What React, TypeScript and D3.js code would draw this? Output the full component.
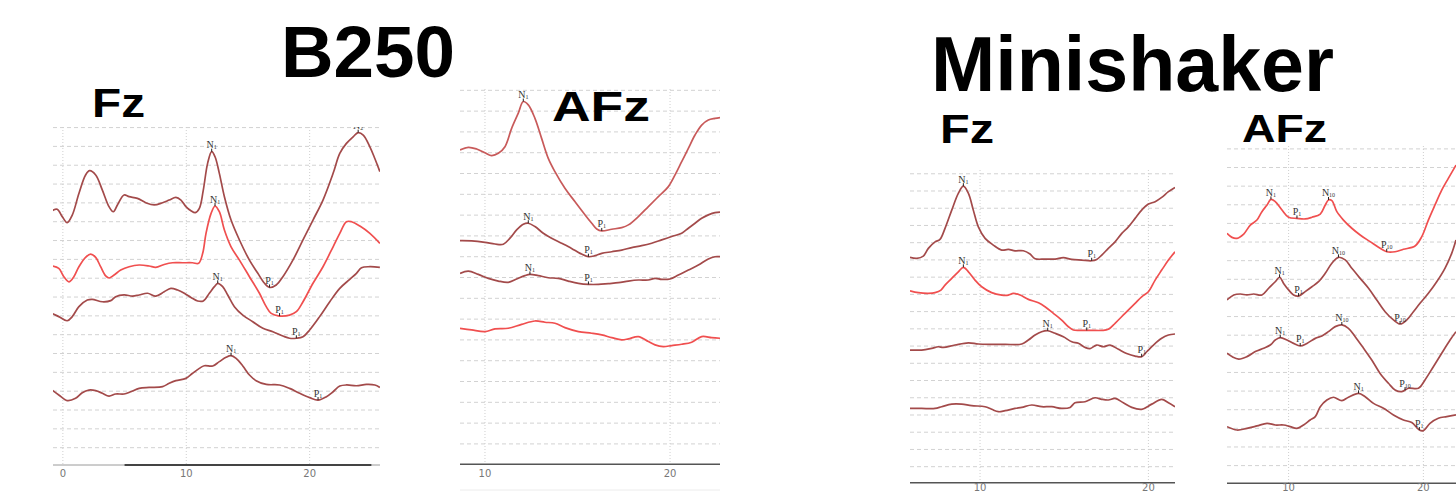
import React from "react";
import * as d3 from "d3";

type Pt = [number, number];

// ---------- DATA (time in ms, amplitude in grid units) ----------
const b250FzTrace1: Pt[] = [[-0.87,13.5],[-0.46,13.58],[-0.05,13.19],[0.35,12.87],[0.76,13.27],[1.3,14.42],[1.84,15.4],[2.17,15.63],[2.66,15.4],[3.2,14.6],[3.74,13.72],[4.09,13.45],[4.42,13.81],[4.96,14.34],[5.37,14.25],[6.04,14.16],[6.72,13.93],[7.4,13.81],[8.08,13.93],[8.62,14.07],[9.16,14.21],[9.57,14.07],[9.97,13.72],[10.38,13.5],[10.73,13.4],[11.06,13.63],[11.38,14.6],[11.73,16.02],[12.06,16.64],[12.33,16.37],[12.68,15.49],[13.09,14.25],[13.63,13.01],[14.31,11.95],[15.12,10.88],[15.8,10.18],[16.34,9.65],[16.75,9.43],[17.29,9.56],[17.83,10.0],[18.64,10.88],[19.46,11.95],[20.27,13.01],[21.08,14.07],[21.9,15.49],[22.44,16.55],[22.98,17.08],[23.52,17.43],[23.93,17.65],[24.34,17.52],[24.88,16.9],[25.28,16.28],[25.69,15.58]];
const b250FzTrace2: Pt[] = [[-0.87,10.57],[-0.33,10.44],[0.08,10.0],[0.49,9.73],[0.89,10.0],[1.3,10.53],[1.84,11.03],[2.25,11.2],[2.66,11.03],[3.06,10.53],[3.47,10.04],[3.74,9.93],[4.15,10.09],[4.69,10.35],[5.37,10.53],[6.18,10.62],[6.99,10.57],[7.53,10.5],[8.21,10.65],[8.89,10.74],[9.7,10.74],[10.51,10.74],[11.0,10.71],[11.33,11.24],[11.6,12.3],[12.01,13.36],[12.33,13.75],[12.68,13.45],[13.09,12.48],[13.63,11.59],[14.31,10.88],[15.12,10.0],[15.93,9.12],[16.48,8.41],[16.88,8.05],[17.56,7.91],[18.37,7.96],[18.92,8.14],[19.46,8.67],[20.27,9.65],[21.08,10.53],[21.9,11.59],[22.44,12.3],[22.98,12.92],[23.39,12.92],[24.07,12.69],[24.88,12.3],[25.69,11.77]];
const b250FzTrace3: Pt[] = [[-0.87,8.05],[-0.33,7.88],[0.35,7.66],[0.76,7.88],[1.3,8.41],[1.98,8.76],[2.38,8.8],[3.2,8.67],[3.88,8.73],[4.28,8.94],[4.96,9.03],[5.64,8.97],[6.18,9.03],[6.86,9.12],[7.53,8.97],[8.21,9.2],[8.75,9.38],[9.3,9.29],[9.84,9.12],[10.38,8.9],[10.92,8.71],[11.38,8.71],[11.87,9.12],[12.28,9.47],[12.55,9.65],[12.95,9.47],[13.36,9.03],[13.9,8.41],[14.58,7.96],[15.39,7.61],[16.21,7.26],[17.02,7.08],[17.83,6.85],[18.37,6.73],[18.92,6.73],[19.46,6.81],[20.0,7.17],[20.81,7.88],[21.63,8.67],[22.44,9.38],[23.25,9.86],[23.79,10.18],[24.2,10.48],[24.88,10.53],[25.69,10.5]];
const b250FzTrace4: Pt[] = [[-0.87,3.98],[-0.33,3.72],[0.35,3.42],[1.03,3.54],[1.57,3.84],[2.11,3.98],[2.66,3.95],[3.2,3.81],[3.74,3.66],[4.28,3.77],[4.96,3.77],[5.5,3.89],[6.18,4.07],[6.99,4.12],[8.08,4.16],[8.62,4.34],[9.16,4.48],[9.97,4.6],[10.51,4.87],[11.06,5.13],[11.46,5.27],[12.14,5.26],[12.68,5.49],[13.22,5.72],[13.63,5.81],[14.04,5.66],[14.58,5.26],[15.12,4.78],[15.66,4.48],[16.48,4.28],[17.56,4.25],[18.37,4.07],[19.19,3.81],[20.0,3.58],[20.68,3.45],[21.36,3.63],[21.9,3.89],[22.44,4.19],[22.98,4.25],[23.79,4.21],[24.6,4.28],[25.28,4.25],[25.69,4.12]];

const b250AFzTrace1: Pt[] = [[8.65,15.11],[9.1,15.24],[9.55,15.16],[10.0,14.98],[10.36,14.84],[10.72,14.95],[11.08,15.27],[11.44,16.15],[11.8,16.88],[12.07,17.44],[12.34,17.28],[12.7,16.63],[13.06,15.67],[13.42,14.71],[13.78,14.07],[14.32,13.27],[14.86,12.63],[15.41,11.99],[15.77,11.59],[16.04,11.31],[16.31,11.22],[16.85,11.3],[17.39,11.38],[17.75,11.51],[18.29,11.91],[18.83,12.39],[19.37,12.87],[19.91,13.35],[20.27,13.91],[20.63,14.55],[20.99,15.19],[21.35,15.83],[21.71,16.31],[22.07,16.55],[22.43,16.63],[22.7,16.67]];
const b250AFzTrace2: Pt[] = [[8.65,10.75],[9.28,10.74],[10.0,10.67],[10.54,10.59],[10.99,10.58],[11.35,10.87],[11.71,11.27],[12.07,11.54],[12.34,11.59],[12.7,11.43],[13.15,11.11],[13.6,10.87],[14.14,10.63],[14.68,10.38],[15.14,10.14],[15.59,9.98],[15.95,10.03],[16.31,10.14],[16.85,10.22],[17.39,10.3],[17.93,10.42],[18.47,10.51],[19.01,10.63],[19.55,10.79],[20.09,10.95],[20.63,11.11],[20.99,11.35],[21.35,11.59],[21.71,11.83],[22.07,11.99],[22.43,12.1],[22.7,12.12]];
const b250AFzTrace3: Pt[] = [[8.65,9.18],[9.1,9.29],[9.64,9.13],[10.18,8.94],[10.72,8.81],[11.26,8.75],[11.71,8.91],[12.16,9.07],[12.43,9.13],[12.88,9.07],[13.42,8.97],[13.96,8.94],[14.5,8.81],[15.05,8.7],[15.59,8.65],[16.13,8.65],[16.67,8.69],[17.21,8.73],[17.75,8.81],[18.29,8.86],[18.83,8.86],[19.19,8.94],[19.55,8.89],[20.0,8.91],[20.45,9.1],[20.99,9.34],[21.53,9.58],[22.07,9.87],[22.43,9.98],[22.7,9.98]];
const b250AFzTrace4: Pt[] = [[8.65,6.54],[9.28,6.46],[10.0,6.38],[10.54,6.51],[11.26,6.54],[11.98,6.73],[12.7,6.89],[13.24,6.83],[13.78,6.78],[14.32,6.57],[15.05,6.38],[15.77,6.3],[16.31,6.22],[16.85,6.09],[17.39,5.98],[17.75,6.03],[18.29,6.14],[18.83,5.9],[19.19,5.74],[19.64,5.66],[20.09,5.71],[20.63,5.77],[21.17,5.87],[21.71,6.14],[22.25,6.09],[22.7,6.06]];

const miniFzTrace1: Pt[] = [[5.84,13.08],[6.24,13.02],[6.63,13.15],[6.93,13.6],[7.33,13.98],[7.62,14.12],[7.92,14.76],[8.32,15.82],[8.71,16.79],[9.01,17.21],[9.31,16.79],[9.6,15.82],[9.9,14.85],[10.3,14.18],[10.79,13.79],[11.29,13.5],[11.68,13.54],[12.08,13.46],[12.57,13.46],[12.97,13.27],[13.27,13.0],[13.86,12.98],[14.46,12.98],[14.95,13.06],[15.45,12.96],[16.04,12.92],[16.63,12.88],[16.93,12.96],[17.23,13.21],[17.62,13.6],[18.02,13.98],[18.42,14.47],[18.81,14.85],[19.21,15.34],[19.6,15.82],[20.0,16.17],[20.4,16.31],[20.79,16.56],[21.19,16.89],[21.58,17.14]];
const miniFzTrace2: Pt[] = [[5.84,11.14],[6.34,11.03],[6.93,10.99],[7.33,11.03],[7.68,11.18],[7.92,11.47],[8.32,11.86],[8.71,12.24],[9.01,12.5],[9.31,12.24],[9.7,11.76],[10.1,11.37],[10.69,11.03],[11.29,10.89],[11.68,10.89],[11.98,10.99],[12.38,10.89],[12.87,10.64],[13.47,10.44],[13.86,10.21],[14.36,9.83],[14.85,9.44],[15.25,9.05],[15.54,8.86],[16.04,8.84],[16.63,8.84],[17.23,8.84],[17.62,8.9],[18.02,9.25],[18.61,9.83],[19.21,10.41],[19.6,10.79],[20.0,11.08],[20.4,11.76],[20.79,12.34],[21.19,12.92],[21.58,13.4]];
const miniFzTrace3: Pt[] = [[5.84,7.7],[6.53,7.7],[7.13,7.8],[7.52,7.89],[7.82,7.85],[8.51,7.99],[9.31,8.12],[9.9,8.05],[10.69,8.03],[11.49,8.03],[12.48,8.05],[12.87,8.28],[13.27,8.57],[13.66,8.76],[14.02,8.82],[14.46,8.67],[14.95,8.47],[15.45,8.18],[15.84,8.09],[16.24,7.85],[16.53,7.78],[16.93,7.99],[17.33,7.89],[17.72,7.99],[18.22,7.74],[18.71,7.5],[19.21,7.35],[19.6,7.31],[19.9,7.6],[20.3,7.99],[20.79,8.38],[21.19,8.57],[21.58,8.63]];
const miniFzTrace4: Pt[] = [[5.84,4.31],[6.53,4.31],[7.33,4.31],[7.72,4.41],[8.32,4.56],[8.91,4.56],[9.5,4.47],[10.3,4.41],[10.69,4.26],[11.09,4.12],[11.49,4.18],[12.08,4.31],[12.48,4.37],[13.07,4.51],[13.66,4.41],[14.26,4.41],[14.85,4.31],[15.35,4.37],[15.64,4.64],[16.24,4.7],[16.83,4.93],[17.23,4.84],[17.62,4.8],[18.02,4.89],[18.51,4.64],[19.01,4.37],[19.6,4.26],[20.2,4.56],[20.79,4.84],[21.19,4.64],[21.58,4.41]];

const miniAFzTrace1: Pt[] = [[5.43,13.42],[5.8,13.2],[6.17,13.15],[6.67,13.38],[7.16,13.86],[7.65,14.13],[8.02,14.58],[8.4,14.94],[8.69,15.24],[9.01,15.12],[9.51,14.67],[10.0,14.28],[10.62,14.22],[11.23,14.19],[11.73,14.28],[12.35,14.45],[12.72,14.94],[12.96,15.21],[13.21,15.17],[13.58,14.58],[14.07,14.13],[14.69,13.69],[15.31,13.33],[16.05,12.97],[16.67,12.67],[17.28,12.43],[17.9,12.43],[18.52,12.56],[19.38,12.74],[19.88,13.24],[20.37,14.13],[20.86,14.94],[21.36,15.74],[21.85,16.37],[22.42,17.08]];
const miniAFzTrace2: Pt[] = [[5.43,9.84],[5.93,10.11],[6.42,10.16],[6.91,10.11],[7.41,10.16],[8.02,10.11],[8.52,10.47],[9.01,10.82],[9.33,11.06],[9.63,10.73],[10.0,10.38],[10.37,10.11],[10.74,10.05],[11.23,10.29],[11.73,10.55],[12.22,10.82],[12.72,11.27],[13.21,11.81],[13.7,12.13],[14.2,11.99],[14.69,11.54],[15.31,11.0],[15.93,10.47],[16.54,9.84],[17.16,9.21],[17.78,8.77],[18.27,8.55],[18.77,8.77],[19.26,9.21],[19.75,9.66],[20.37,10.2],[20.99,10.82],[21.6,11.54],[22.1,12.34],[22.42,13.06]];
const miniAFzTrace3: Pt[] = [[5.43,6.98],[5.8,6.8],[6.3,6.67],[6.91,6.8],[7.53,7.07],[8.15,7.25],[8.64,7.42],[9.01,7.69],[9.38,7.82],[9.88,7.69],[10.37,7.51],[10.86,7.37],[11.36,7.51],[11.98,7.78],[12.47,7.91],[12.96,8.14],[13.46,8.41],[13.95,8.5],[14.44,8.32],[14.94,7.87],[15.56,7.25],[16.17,6.62],[16.79,5.9],[17.41,5.37],[17.9,5.01],[18.4,4.92],[18.89,5.1],[19.63,5.1],[20.12,5.55],[20.74,6.26],[21.36,6.98],[21.98,7.69],[22.42,8.14]];
const miniAFzTrace4: Pt[] = [[5.43,3.04],[6.17,2.86],[6.91,2.95],[7.65,3.08],[8.4,3.22],[9.01,3.13],[9.63,3.13],[10.12,3.04],[10.62,2.95],[11.11,3.13],[11.6,3.4],[11.98,3.58],[12.35,4.11],[12.84,4.47],[13.33,4.62],[13.95,4.44],[14.44,4.62],[15.19,4.83],[15.68,4.65],[16.3,4.29],[17.04,4.03],[17.78,3.67],[18.52,3.4],[19.14,3.26],[19.7,2.86],[20.0,2.83],[20.49,3.22],[21.11,3.49],[21.73,3.58],[22.42,3.67]];

type Mark = { t: number; v: number; name: string; sub: string };
const b250FzMarks: Mark[] = [
  { t: 12.06, v: 16.64, name: "N", sub: "1" }, { t: 16.75, v: 9.43, name: "P", sub: "1" },
  { t: 23.93, v: 17.65, name: "N", sub: "2" },
  { t: 12.33, v: 13.75, name: "N", sub: "1" }, { t: 17.56, v: 7.91, name: "P", sub: "1" },
  { t: 12.55, v: 9.65, name: "N", sub: "1" }, { t: 18.92, v: 6.73, name: "P", sub: "1" },
  { t: 13.63, v: 5.81, name: "N", sub: "1" }, { t: 20.68, v: 3.45, name: "P", sub: "1" },
];
const b250AFzMarks: Mark[] = [
  { t: 12.07, v: 17.44, name: "N", sub: "1" }, { t: 16.31, v: 11.22, name: "P", sub: "1" },
  { t: 12.34, v: 11.59, name: "N", sub: "1" }, { t: 15.59, v: 9.98, name: "P", sub: "1" },
  { t: 12.43, v: 9.13, name: "N", sub: "1" }, { t: 15.59, v: 8.65, name: "P", sub: "1" },
];
const miniFzMarks: Mark[] = [
  { t: 9.01, v: 17.21, name: "N", sub: "1" }, { t: 16.63, v: 12.88, name: "P", sub: "1" },
  { t: 9.01, v: 12.5, name: "N", sub: "1" }, { t: 16.34, v: 8.84, name: "P", sub: "1" },
  { t: 14.02, v: 8.82, name: "N", sub: "1" }, { t: 19.6, v: 7.31, name: "P", sub: "1" },
];
const miniAFzMarks: Mark[] = [
  { t: 8.69, v: 15.24, name: "N", sub: "1" }, { t: 10.62, v: 14.22, name: "P", sub: "1" },
  { t: 12.96, v: 15.21, name: "N", sub: "10" }, { t: 17.28, v: 12.43, name: "P", sub: "10" },
  { t: 9.33, v: 11.06, name: "N", sub: "1" }, { t: 10.74, v: 10.05, name: "P", sub: "1" },
  { t: 13.7, v: 12.13, name: "N", sub: "10" }, { t: 18.27, v: 8.55, name: "P", sub: "10" },
  { t: 9.38, v: 7.82, name: "N", sub: "1" }, { t: 10.86, v: 7.37, name: "P", sub: "1" },
  { t: 13.95, v: 8.5, name: "N", sub: "10" }, { t: 18.64, v: 5.0, name: "P", sub: "10" },
  { t: 15.19, v: 4.83, name: "N", sub: "1" }, { t: 19.7, v: 2.86, name: "P", sub: "1" },
];

const b250FzTicks = [0, 10, 20];
const b250AFzTicks = [10, 20];
const miniFzTicks = [10, 20];
const miniAFzTicks = [10, 20];

// ---------- STYLE / LAYOUT ----------
const DARK = "#a34a4a";
const BRIGHT = "#f04f4f";

type PanelCfg = {
  id: string;
  x0: number; x1: number; tDomain: [number, number];
  yBase: number; unitPx: number; top: number;
  gridOffset: number; nGrid: number;
  ticks: number[]; tickY: number;
  traces: Pt[][]; colors: string[];
  marks: Mark[];
  darkSeg?: [number, number];
  bottomLine?: number;
};

const panels: PanelCfg[] = [
  {
    id: "p1", x0: 53, x1: 380, tDomain: [-0.8, 25.7], yBase: 465, unitPx: 18.83, top: 127,
    gridOffset: 0.92, nGrid: 18, ticks: b250FzTicks, tickY: 477,
    traces: [b250FzTrace1, b250FzTrace2, b250FzTrace3, b250FzTrace4],
    colors: [DARK, BRIGHT, DARK, DARK], marks: b250FzMarks, darkSeg: [5, 25],
  },
  {
    id: "p2", x0: 460, x1: 720, tDomain: [8.65, 22.7], yBase: 464.3, unitPx: 20.8, top: 89,
    gridOffset: 0.98, nGrid: 18, ticks: b250AFzTicks, tickY: 477,
    traces: [b250AFzTrace1, b250AFzTrace2, b250AFzTrace3, b250AFzTrace4],
    colors: ["#c85a5a", DARK, DARK, BRIGHT], marks: b250AFzMarks, bottomLine: 490,
  },
  {
    id: "p3", x0: 910, x1: 1175, tDomain: [5.84, 21.58], yBase: 482.7, unitPx: 17.23, top: 170,
    gridOffset: 0.93, nGrid: 18, ticks: miniFzTicks, tickY: 491,
    traces: [miniFzTrace1, miniFzTrace2, miniFzTrace3, miniFzTrace4],
    colors: [DARK, BRIGHT, DARK, DARK], marks: miniFzMarks,
  },
  {
    id: "p4", x0: 1227, x1: 1456, tDomain: [5.43, 22.42], yBase: 483.3, unitPx: 18.63, top: 146,
    gridOffset: 0.95, nGrid: 18, ticks: miniAFzTicks, tickY: 491,
    traces: [miniAFzTrace1, miniAFzTrace2, miniAFzTrace3, miniAFzTrace4],
    colors: [BRIGHT, DARK, DARK, DARK], marks: miniAFzMarks,
  },
];

function Panel({ cfg }: { cfg: PanelCfg }) {
  const x = d3.scaleLinear().domain(cfg.tDomain).range([cfg.x0, cfg.x1]);
  const vTop = (cfg.yBase - cfg.top) / cfg.unitPx;
  const y = d3.scaleLinear().domain([0, vTop]).range([cfg.yBase, cfg.top]);
  const line = d3.line<Pt>().x((d) => x(d[0])).y((d) => y(d[1])).curve(d3.curveCatmullRom.alpha(0.5));
  const grid = d3.range(cfg.nGrid).map((k) => cfg.gridOffset + k);
  const clipId = `clip-${cfg.id}`;
  return (
    <g>
      <defs>
        <clipPath id={clipId}>
          <rect x={cfg.x0} y={cfg.top} width={cfg.x1 - cfg.x0} height={cfg.yBase - cfg.top} />
        </clipPath>
      </defs>
      <g clipPath={`url(#${clipId})`}>
        {grid.map((v, i) => (
          <line key={`h${i}`} x1={cfg.x0} x2={cfg.x1} y1={y(v)} y2={y(v)} stroke="#d2d2d2" strokeWidth={1} strokeDasharray="4,3" />
        ))}
        {cfg.ticks.map((t) => (
          <line key={`v${t}`} x1={x(t)} x2={x(t)} y1={cfg.top} y2={cfg.yBase} stroke="#cfcfcf" strokeWidth={1} strokeDasharray="1,2" />
        ))}
        {cfg.traces.map((tr, i) => (
          <path key={`t${i}`} d={line(tr) || ""} fill="none" stroke={cfg.colors[i]} strokeWidth={1.7} strokeLinejoin="round" />
        ))}
        {cfg.marks.map((m, i) => {
          const px = x(m.t), py = y(m.v);
          return (
            <g key={`m${i}`}>
              <line x1={px} x2={px} y1={py} y2={py - 3} stroke="#222" strokeWidth={1} />
              <text x={px} y={py - 3.5} textAnchor="middle" fontFamily="'Liberation Serif', 'DejaVu Serif', serif" fontSize={10} fill="#333">
                {m.name}
                <tspan fontSize={6} dy={1}>{m.sub}</tspan>
              </text>
            </g>
          );
        })}
      </g>
      <line x1={cfg.x0} x2={cfg.x1} y1={cfg.yBase} y2={cfg.yBase} stroke={cfg.darkSeg ? "#9a9a9a" : "#555"} strokeWidth={cfg.darkSeg ? 1 : 1.6} />
      {cfg.darkSeg && (
        <line x1={x(cfg.darkSeg[0])} x2={x(cfg.darkSeg[1])} y1={cfg.yBase} y2={cfg.yBase} stroke="#444" strokeWidth={2} />
      )}
      {cfg.bottomLine !== undefined && (
        <line x1={cfg.x0} x2={cfg.x1} y1={cfg.bottomLine} y2={cfg.bottomLine} stroke="#ececec" strokeWidth={1} />
      )}
      {cfg.ticks.map((t) => (
        <text key={`l${t}`} x={x(t)} y={cfg.tickY} textAnchor="middle" fontFamily="'DejaVu Sans', sans-serif" fontSize={10} fill="#777">
          {t}
        </text>
      ))}
    </g>
  );
}

export default function App() {
  const bold = { fontFamily: "'Liberation Sans', Arial, sans-serif", fontWeight: 700, fill: "#000" } as const;
  return (
    <div style={{ position: "absolute", left: 0, top: 0 }}>
      <svg width={1456} height={492} style={{ display: "block", background: "#fff" }}>
        {panels.map((p) => (
          <Panel key={p.id} cfg={p} />
        ))}
        <text x={281} y={77} fontSize={73} textLength={174} lengthAdjust="spacingAndGlyphs" style={bold}>B250</text>
        <text x={931} y={91} fontSize={77} textLength={403} lengthAdjust="spacingAndGlyphs" style={bold}>Minishaker</text>
        <text x={92} y={117} fontSize={40} textLength={53} lengthAdjust="spacingAndGlyphs" style={bold}>Fz</text>
        <text x={552} y={121} fontSize={43} textLength={98} lengthAdjust="spacingAndGlyphs" style={bold}>AFz</text>
        <text x={940} y={143} fontSize={40} textLength={54} lengthAdjust="spacingAndGlyphs" style={bold}>Fz</text>
        <text x={1242} y={142} fontSize={38} textLength={85} lengthAdjust="spacingAndGlyphs" style={bold}>AFz</text>
      </svg>
    </div>
  );
}
